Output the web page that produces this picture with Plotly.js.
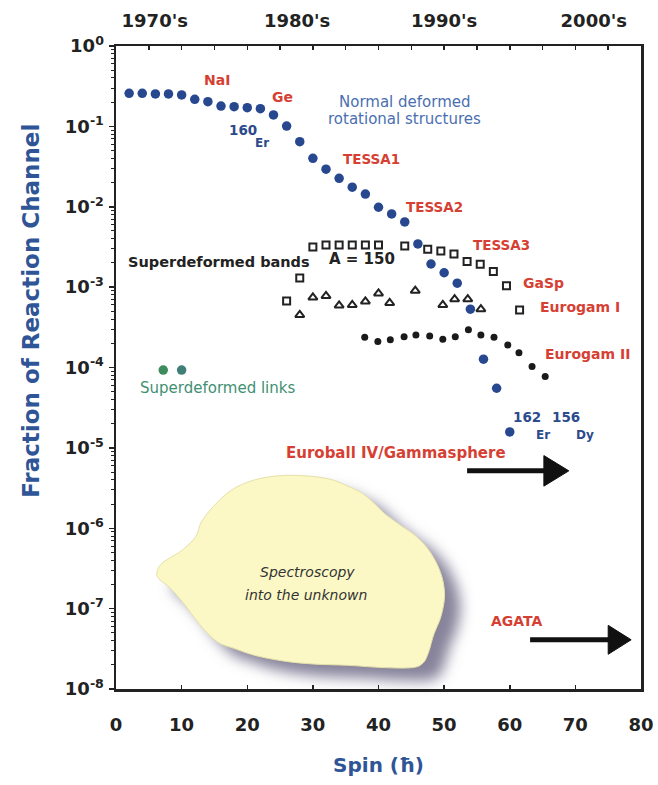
<!DOCTYPE html>
<html>
<head>
<meta charset="utf-8">
<script src="https://cdn.plot.ly/plotly-3.0.1.min.js"></script>
<style>
  html, body { margin: 0; padding: 0; background: #ffffff; }
  #chart { width: 658px; height: 785px; }
</style>
</head>
<body>
<div id="chart"></div>
<script>
// ---- Data -------------------------------------------------------------
// Normal deformed rotational band of 160Er
const spinND = [2, 4, 6, 8, 10, 12, 14, 16, 18, 20, 22, 24, 26, 28, 30,
                32, 34, 36, 38, 40, 42, 44, 46, 48, 50, 52, 54, 56, 58, 60];
const fracND = [0.258, 0.258, 0.253, 0.253, 0.246, 0.217, 0.203, 0.179, 0.176, 0.171,
                0.166, 0.139, 0.101, 0.0645, 0.0401, 0.0293, 0.0226, 0.0175, 0.0144, 0.00986,
                0.00813, 0.00647, 0.00345, 0.00194, 0.00151, 0.00112, 5.31e-4, 1.27e-4, 5.52e-5, 1.58e-5];

// Superdeformed bands, A = 150 (squares)
const spinSD = [26, 28, 30, 32, 34, 36, 38, 40, 44, 47.5, 49.5, 51.5, 53.5, 55.5, 57.5, 59.5, 61.5];
const fracSD = [6.73e-4, 1.30e-3, 3.16e-3, 3.35e-3, 3.35e-3, 3.35e-3, 3.35e-3, 3.35e-3, 3.25e-3,
                2.96e-3, 2.82e-3, 2.59e-3, 2.08e-3, 1.93e-3, 1.56e-3, 1.04e-3, 5.2e-4];

// Superdeformed bands (triangles)
const spinTri = [28, 30, 32, 34, 36, 38, 40, 41.7, 45.6, 49.8, 51.6, 53.6, 55.6];
const fracTri = [4.51e-4, 7.44e-4, 7.78e-4, 5.92e-4, 6.01e-4, 6.64e-4, 8.35e-4, 6.36e-4,
                 9.04e-4, 6.01e-4, 7.08e-4, 7.08e-4, 5.31e-4];

// Eurogam II era band (small black dots)
const spinEG2 = [37.9, 39.9, 41.8, 43.9, 45.7, 47.8, 49.8, 51.7, 53.7, 55.6, 57.6, 59.7, 61.4, 63.4, 65.4];
const fracEG2 = [2.38e-4, 2.10e-4, 2.21e-4, 2.42e-4, 2.54e-4, 2.47e-4, 2.25e-4, 2.42e-4,
                 2.94e-4, 2.54e-4, 2.38e-4, 1.91e-4, 1.53e-4, 1.03e-4, 7.71e-5];

// Superdeformed links
const spinLinks = [7.2, 10.0];
const fracLinks = [9.3e-5, 9.3e-5];

// Axis labels
const yTickVals = [1, 1e-1, 1e-2, 1e-3, 1e-4, 1e-5, 1e-6, 1e-7, 1e-8];
const yTickText = ['10<sup>0</sup>', '10<sup>-1</sup>', '10<sup>-2</sup>', '10<sup>-3</sup>',
                   '10<sup>-4</sup>', '10<sup>-5</sup>', '10<sup>-6</sup>', '10<sup>-7</sup>', '10<sup>-8</sup>'];
const decadeLabels = ["1970's", "1980's", "1990's", "2000's"];
const decadeSpin = [5.9, 27.6, 50.0, 72.8];

// ---- Styling ----------------------------------------------------------
const FONT = 'DejaVu Sans, Liberation Sans, sans-serif';
const RED = '#d63f33';
const AXIS_BLUE = '#2f5597';
const INK = '#222222';

const traces = [
  { x: spinND, y: fracND, type: 'scatter', mode: 'markers', name: '160Er',
    marker: { symbol: 'circle', size: 9.5, color: '#27478f' } },
  { x: spinSD, y: fracSD, type: 'scatter', mode: 'markers', name: 'SD A=150',
    marker: { symbol: 'square-open', size: 7, color: INK, line: { width: 2, color: INK } } },
  { x: spinTri, y: fracTri, type: 'scatter', mode: 'markers', name: 'SD bands',
    marker: { symbol: 'triangle-up-open', size: 8, color: INK, line: { width: 2, color: INK } } },
  { x: spinEG2, y: fracEG2, type: 'scatter', mode: 'markers', name: 'Eurogam II',
    marker: { symbol: 'circle', size: 7, color: '#1a1a1a' } },
  { x: spinLinks, y: fracLinks, type: 'scatter', mode: 'markers', name: 'SD links',
    marker: { symbol: 'circle', size: 9.5, color: ['#3c8c5c', '#3f7f78'] } }
];

// Helpers: data position (spin, log10 fraction) -> paper fraction
const XMAX = 80, YMIN = -8, YMAX = 0;
const px = s => s / XMAX;
const py = e => (e - YMIN) / (YMAX - YMIN);

function smoothClosedPath(pts) {
  const n = pts.length;
  const f = v => v.toFixed(5);
  let d = 'M' + f(pts[0][0]) + ',' + f(pts[0][1]);
  for (let i = 0; i < n; i++) {
    const p0 = pts[(i - 1 + n) % n], p1 = pts[i], p2 = pts[(i + 1) % n], p3 = pts[(i + 2) % n];
    const c1 = [p1[0] + (p2[0] - p0[0]) / 6, p1[1] + (p2[1] - p0[1]) / 6];
    const c2 = [p2[0] - (p3[0] - p1[0]) / 6, p2[1] - (p3[1] - p1[1]) / 6];
    d += ' C' + f(c1[0]) + ',' + f(c1[1]) + ' ' + f(c2[0]) + ',' + f(c2[1]) + ' ' + f(p2[0]) + ',' + f(p2[1]);
  }
  return d + ' Z';
}

// Outline of the "unknown" cloud, in (spin, log10 fraction)
const cloud = [
  [6.22, -6.557], [7.04, -6.433], [10.02, -6.277], [12.18, -6.101], [12.99, -5.924],
  [14.89, -5.725], [17.60, -5.525], [20.84, -5.405], [24.64, -5.348], [28.96, -5.348],
  [32.75, -5.393], [35.45, -5.481], [37.61, -5.570], [39.51, -5.703], [40.87, -5.813],
  [43.03, -5.945], [45.73, -6.101], [47.91, -6.300], [49.52, -6.566], [50.07, -6.831],
  [49.52, -7.097], [48.44, -7.318], [47.64, -7.540], [46.81, -7.674], [45.17, -7.734],
  [40.87, -7.734], [35.44, -7.706], [30.04, -7.689], [25.70, -7.654], [21.38, -7.587],
  [18.13, -7.499], [15.42, -7.413], [12.78, -7.201], [10.49, -6.953], [8.21, -6.741],
  [6.69, -6.642]
];
const cloudPaper = cloud.map(p => [px(p[0]), py(p[1])]);
const shadowPaper = cloud.map(p => [px(p[0] + 2.4), py(p[1] - 0.16)]);

function arrowShapes(s0, s1, headStart, e, halfH) {
  return [
    { type: 'line', xref: 'paper', yref: 'paper', x0: px(s0), x1: px(headStart + 0.5), y0: py(e), y1: py(e),
      line: { color: '#111', width: 5 }, layer: 'above' },
    { type: 'path', xref: 'paper', yref: 'paper', layer: 'above',
      path: 'M' + px(headStart) + ',' + py(e + halfH) + ' L' + px(s1) + ',' + py(e) +
            ' L' + px(headStart) + ',' + py(e - halfH) + ' Z',
      fillcolor: '#111', line: { color: '#111', width: 1 } }
  ];
}

const shapes = [
  { type: 'path', xref: 'paper', yref: 'paper', layer: 'below', path: smoothClosedPath(shadowPaper),
    fillcolor: 'rgba(128,124,150,0.95)', line: { width: 0 } },
  { type: 'path', xref: 'paper', yref: 'paper', layer: 'below', path: smoothClosedPath(cloudPaper),
    fillcolor: '#fbf8c6', line: { color: '#e6e0a8', width: 1 } },
  ...arrowShapes(53.5, 69.0, 65.2, -5.286, 0.19),
  ...arrowShapes(63.1, 78.5, 75.0, -7.388, 0.18)
];

function note(text, x, y, size, color, opts) {
  return Object.assign({
    text: text, x: x, y: y, xref: 'x', yref: 'y', showarrow: false,
    xanchor: 'center', yanchor: 'middle',
    font: { family: FONT, size: size, color: color, weight: 'bold' }
  }, opts || {});
}
const plain = (t, x, y, size, color) => {
  const a = note(t, x, y, size, color);
  a.font.weight = 'normal';
  return a;
};

const annotations = [
  note('NaI', 15.44, -0.423, 14, RED),
  note('Ge', 25.40, -0.634, 14, RED),
  note('160', 19.32, -1.045, 13.5, '#2c4a8c'),
  note('Er', 22.2, -1.206, 12, '#2c4a8c'),
  plain('Normal deformed', 44.1, -0.697, 15, '#4a6fb0'),
  plain('rotational structures', 44.03, -0.908, 15, '#4a6fb0'),
  note('TESSA1', 38.89, -1.405, 13.5, RED),
  note('TESSA2', 48.59, -2.002, 13.5, RED),
  note('TESSA3', 58.78, -2.475, 13.5, RED),
  note('GaSp', 65.17, -2.948, 14, RED),
  note('Eurogam I', 70.72, -3.246, 14, RED),
  note('Eurogam II', 71.79, -3.831, 14, RED),
  note('Superdeformed bands', 15.67, -2.687, 14.5, INK),
  note('A = 150', 37.49, -2.649, 15, INK),
  plain('Superdeformed links', 15.51, -4.254, 15, '#3f8f73'),
  note('162', 62.66, -4.614, 13.5, '#2c4a8c'),
  note('Er', 65.10, -4.838, 12, '#2c4a8c'),
  note('156', 68.59, -4.614, 13.5, '#2c4a8c'),
  note('Dy', 71.48, -4.838, 12, '#2c4a8c'),
  note('Euroball IV/Gammasphere', 42.74, -5.062, 15, RED),
  note('AGATA', 61.14, -7.152, 14, RED),
  plain('<i>Spectroscopy</i>', 29.2, -6.542, 14, '#333333'),
  plain('<i>into the unknown</i>', 28.9, -6.828, 14, '#333333'),
  // vertical axis title
  { text: 'Fraction of Reaction Channel', xref: 'paper', yref: 'paper', x: -0.162, y: 0.588,
    xanchor: 'center', yanchor: 'middle', textangle: -90, showarrow: false,
    font: { family: FONT, size: 23, color: AXIS_BLUE, weight: 'bold' } }
];

// minor log ticks 2..9 within each decade
const minorVals = [];
for (let d = -8; d < 0; d++) for (let k = 2; k <= 9; k++) minorVals.push(k * Math.pow(10, d));

const tickFont = { family: FONT, size: 18, color: INK, weight: 'bold' };

const layout = {
  width: 658, height: 785,
  margin: { l: 116, r: 17, t: 46, b: 96 },
  paper_bgcolor: '#ffffff', plot_bgcolor: '#ffffff',
  showlegend: false,
  font: { family: FONT, color: INK, size: 14 },
  xaxis: {
    range: [0, 80], tick0: 0, dtick: 10, ticks: 'inside', ticklen: 4, tickwidth: 1.5, tickcolor: INK,
    showline: true, linewidth: 2.5, linecolor: INK, showgrid: false, zeroline: false,
    tickfont: tickFont, ticklabelstandoff: 18,
    title: { text: 'Spin (ħ)', font: { family: FONT, size: 20, color: AXIS_BLUE, weight: 'bold' }, standoff: 24 }
  },
  xaxis2: {
    overlaying: 'x', anchor: 'y', side: 'top', range: [0, 80],
    tickvals: decadeSpin, ticktext: decadeLabels, ticks: '', showline: false, showgrid: false,
    zeroline: false, tickfont: tickFont, ticklabelstandoff: 14
  },
  xaxis3: {
    overlaying: 'x', anchor: 'y', side: 'top', range: [0, 80], tick0: 0, dtick: 5,
    ticks: 'inside', ticklen: 4, tickwidth: 1.5, tickcolor: INK, showticklabels: false,
    tickfont: { family: FONT, size: 12, color: INK },
    showline: true, linewidth: 2.5, linecolor: INK, showgrid: false, zeroline: false
  },
  yaxis: {
    type: 'log', range: [-8, 0], tickvals: yTickVals, ticktext: yTickText,
    ticks: 'outside', ticklen: 5, tickwidth: 1.5, tickcolor: INK,
    minor: { tickvals: minorVals, ticks: 'outside', ticklen: 3, tickwidth: 1, tickcolor: INK, showgrid: false },
    showline: true, mirror: true, linewidth: 2.5, linecolor: INK, showgrid: false, zeroline: false,
    tickfont: tickFont, ticklabelstandoff: 1
  },
  shapes: shapes,
  annotations: annotations
};

// bind an invisible trace to each top axis so they render
traces.push({ x: [0], y: [1], type: 'scatter', mode: 'markers', xaxis: 'x2', yaxis: 'y',
              marker: { opacity: 0 }, hoverinfo: 'skip' });
traces.push({ x: [0], y: [1], type: 'scatter', mode: 'markers', xaxis: 'x3', yaxis: 'y',
              marker: { opacity: 0 }, hoverinfo: 'skip' });

Plotly.newPlot('chart', traces, layout, { staticPlot: true, displayModeBar: false }).then(gd => {
  // soft drop shadow under the cloud
  const svg = gd.querySelector('svg.main-svg');
  const NS = 'http://www.w3.org/2000/svg';
  let defs = svg.querySelector('defs');
  if (!defs) { defs = document.createElementNS(NS, 'defs'); svg.insertBefore(defs, svg.firstChild); }
  const filt = document.createElementNS(NS, 'filter');
  filt.setAttribute('id', 'cloudShadow');
  filt.setAttribute('x', '-30%'); filt.setAttribute('y', '-30%');
  filt.setAttribute('width', '160%'); filt.setAttribute('height', '160%');
  const blur = document.createElementNS(NS, 'feGaussianBlur');
  blur.setAttribute('stdDeviation', '7');
  filt.appendChild(blur);
  defs.appendChild(filt);
  const shapePaths = gd.querySelectorAll('.layer-below .shapelayer path');
  if (shapePaths.length) shapePaths[0].setAttribute('filter', 'url(#cloudShadow)');
});
</script>
</body>
</html>
